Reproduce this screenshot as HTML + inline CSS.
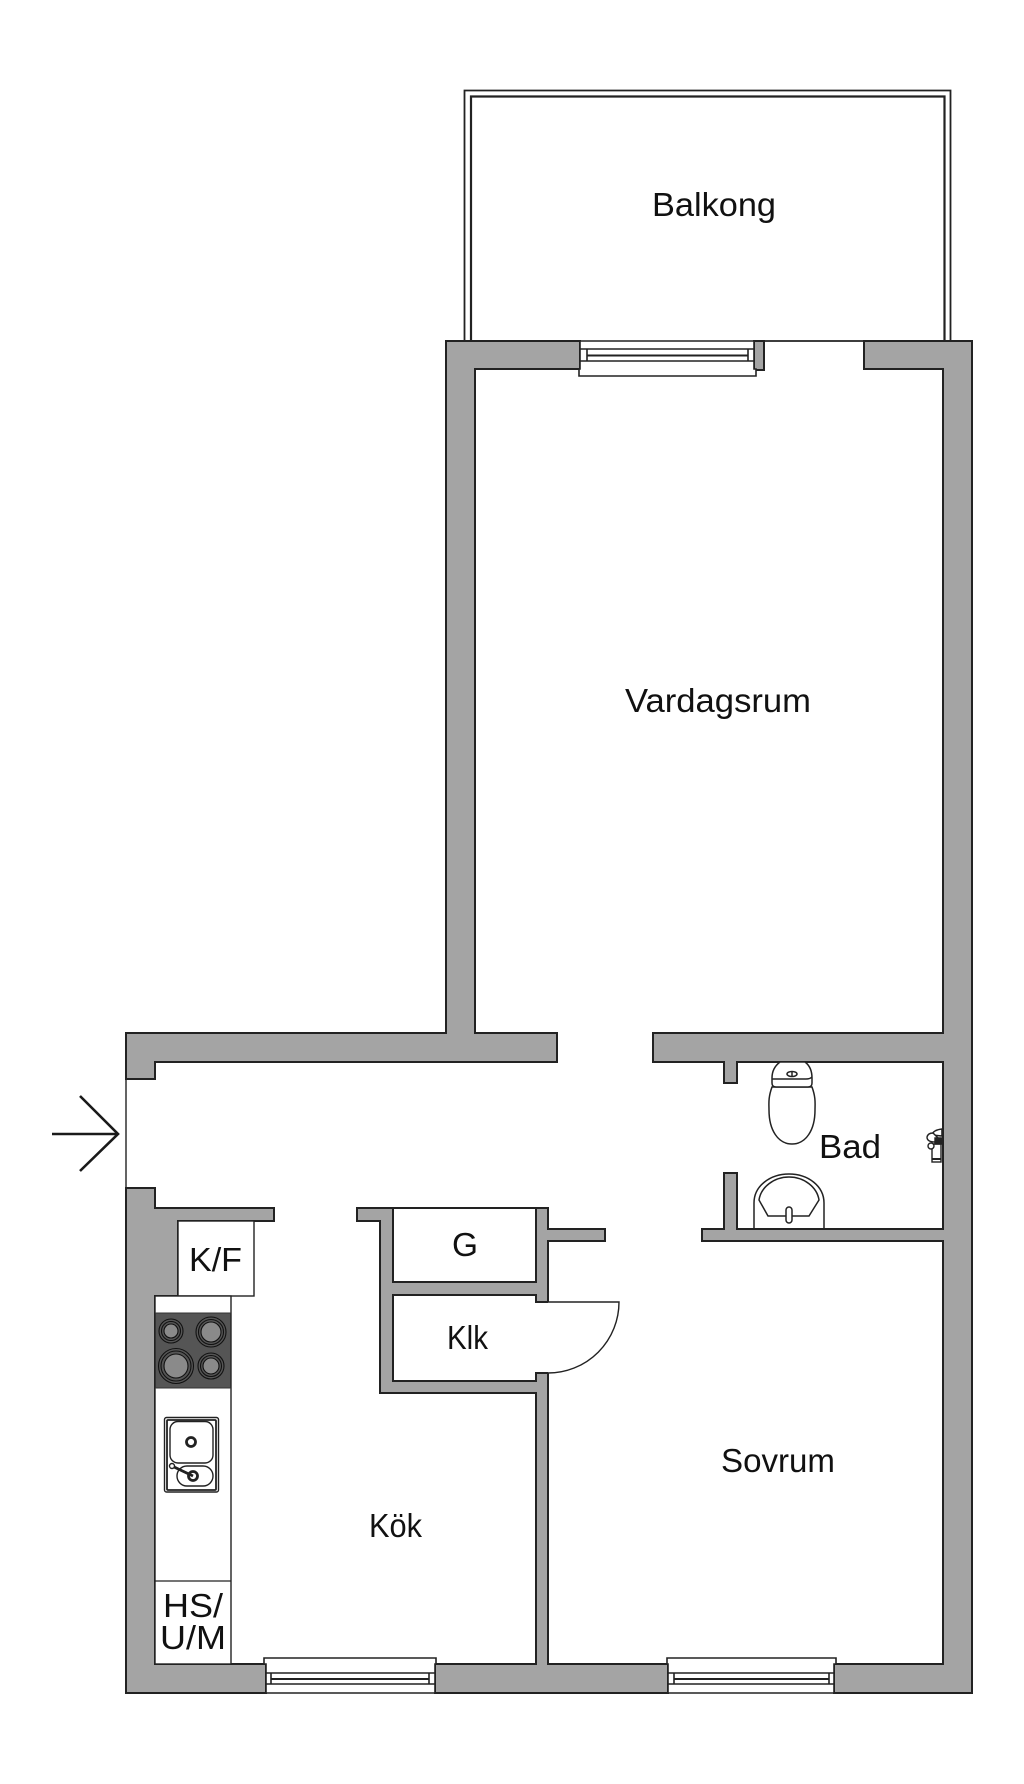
<!DOCTYPE html>
<html lang="sv"><head><meta charset="utf-8"><title>Planritning</title>
<style>html,body{margin:0;padding:0;background:#fff}svg{display:block}
text{font-family:"Liberation Sans",sans-serif;font-size:33px;fill:#111}</style></head>
<body>
<svg xmlns="http://www.w3.org/2000/svg" width="1024" height="1784" viewBox="0 0 1024 1784">
<rect width="1024" height="1784" fill="#fff"/>
<!-- balcony -->
<g fill="none" stroke="#222" stroke-width="1.8">
<path d="M464.500 341V90.500H950.500V341"/>
<path d="M471 341V96.500H944.500V341" stroke-width="2.200"/>
<!-- entrance and balcony door lines -->
<path d="M126 1079V1188" stroke-width="1.400"/>
<path d="M754 341H864"/>
</g>
<!-- walls -->
<g fill="#a4a4a4" stroke="#222" stroke-width="2" stroke-linejoin="miter">
<path d="M126 1033H446V341H580V369H475V1033H557V1062H155V1079H126Z"/>
<rect x="754" y="341" width="10" height="29"/>
<path d="M864 341H972V1693H834V1664H943V1241H702V1229H724V1173H737V1229H943V1062H737V1083H724V1062H653V1033H943V369H864Z"/>
<path d="M126 1188H155V1208H274V1221H178V1296H155V1664H266V1693H126Z"/>
<path d="M435 1693H668V1664H548V1373H536V1381H393V1295H536V1302H548V1241H605V1229H548V1208H357V1221H380V1393H536V1664H435Z"/>
</g>
<rect x="393" y="1208" width="143" height="74" fill="#fff" stroke="#222" stroke-width="2"/>
<!-- closet door -->
<path d="M548 1302H619A71 71 0 0 1 548 1373" fill="#fff" stroke="#222" stroke-width="1.400"/>
<!-- top window -->
<g fill="#fff" stroke="#222" stroke-width="1.600">
<path d="M580 341H754V369H756V376H579V369H580Z"/>
<path d="M580 349H754M580 361H754" fill="none"/>
<path d="M587 349V361M748 349V361" fill="none"/>
<path d="M587 355.500H748" fill="none" stroke-width="2"/>
</g>
<!-- bottom windows -->
<g fill="#fff" stroke="#222" stroke-width="1.600">
<path d="M266 1693V1664H264V1658H436V1664H435V1693Z"/>
<path d="M266 1673H435M266 1684H435M271 1673V1684M429 1673V1684" fill="none"/>
<path d="M271 1679H429" fill="none" stroke-width="2"/>
<path d="M668 1693V1664H667V1658H836V1664H834V1693Z"/>
<path d="M668 1673H834M668 1684H834M674 1673V1684M829 1673V1684" fill="none"/>
<path d="M674 1679H829" fill="none" stroke-width="2"/>
</g>
<!-- kitchen counters -->
<rect x="178" y="1221" width="76" height="75" fill="#fff" stroke="#222" stroke-width="1.400"/>
<rect x="155" y="1296" width="76" height="368" fill="#fff" stroke="#222" stroke-width="1.400"/>
<path d="M155 1581H231" stroke="#222" stroke-width="1.200"/>
<rect x="155.500" y="1313" width="75" height="75" fill="#555" stroke="#333"/>
<g fill="#555" stroke="#111" stroke-width="1.100">
<circle cx="171" cy="1331" r="12"/><circle cx="171" cy="1331" r="9.500"/><circle cx="171" cy="1331" r="7" fill="#8a8a8a"/>
<circle cx="211" cy="1332" r="15"/><circle cx="211" cy="1332" r="12.500"/><circle cx="211" cy="1332" r="10" fill="#8a8a8a"/>
<circle cx="176" cy="1366" r="17.500"/><circle cx="176" cy="1366" r="15"/><circle cx="176" cy="1366" r="12" fill="#8a8a8a"/>
<circle cx="211" cy="1366" r="13"/><circle cx="211" cy="1366" r="10.500"/><circle cx="211" cy="1366" r="8" fill="#8a8a8a"/>
</g>
<!-- sink -->
<g fill="#fff" stroke="#222" stroke-width="1.400">
<rect x="164.500" y="1417.500" width="54" height="74.500" rx="2"/>
<rect x="167" y="1420" width="49" height="70" rx="1" stroke-width="1.800"/>
<rect x="170" y="1421.500" width="43" height="41.500" rx="8"/>
<rect x="177" y="1466" width="36" height="20" rx="10"/>
<circle cx="191" cy="1442" r="4.500" stroke-width="2.800"/>
<circle cx="193" cy="1476" r="4.500" stroke-width="2.800"/>
<path d="M172 1466L193 1476" stroke-width="2.800"/>
<circle cx="172" cy="1466" r="2.500"/>
</g>
<!-- toilet -->
<g fill="#fff" stroke="#222" stroke-width="1.500">
<path d="M772 1087C768 1098 769 1104 769 1110C769 1130 778 1144 792 1144C806 1144 815 1130 815 1110C815 1104 816 1098 812 1087Z"/>
<path d="M772 1078C772 1070 776 1065 780 1062H805C809 1065 812 1070 812 1078V1083Q812 1087 808 1087H776Q772 1087 772 1083Z"/>
<path d="M772 1079Q776 1079 778 1079H806Q810 1079 812 1077" fill="none"/>
<ellipse cx="792" cy="1074" rx="5" ry="2.500" stroke-width="1.500"/>
<path d="M792 1071.500V1076.500"/>
</g>
<!-- wash basin -->
<g fill="#fff" stroke="#222" stroke-width="1.500">
<path d="M754 1228V1203C754 1186 770 1174 789 1174C808 1174 824 1186 824 1203V1228"/>
<path d="M759 1200C761 1187 774 1177 789 1177C804 1177 817 1187 819 1200L809 1216H768Z"/>
<rect x="786" y="1207" width="6" height="16" rx="3"/>
</g>
<!-- shower mixer -->
<g fill="#fff" stroke="#222" stroke-width="1.400">
<rect x="932" y="1144" width="9" height="18"/>
<path d="M932 1159H941" stroke-width="2"/>
<path d="M932 1135Q933 1130 942 1129V1136Z" stroke-width="1.600"/>
<path d="M933 1133Q928 1133 927 1137Q927 1142 935 1142L938 1138Z"/>
<circle cx="931" cy="1146" r="3"/>
<path d="M935 1138H942V1144H935Z" fill="#222"/>
</g>
<!-- entry arrow -->
<path d="M52 1134H118M80 1096L118 1134L80 1171" fill="none" stroke="#1a1a1a" stroke-width="2.600"/>
<!-- labels -->
<text x="652" y="216" textLength="124" lengthAdjust="spacingAndGlyphs">Balkong</text>
<text x="625" y="712" textLength="186" lengthAdjust="spacingAndGlyphs">Vardagsrum</text>
<text x="721" y="1472" textLength="114" lengthAdjust="spacingAndGlyphs">Sovrum</text>
<text x="369" y="1537" textLength="53" lengthAdjust="spacingAndGlyphs">Kök</text>
<text x="819" y="1158" textLength="62" lengthAdjust="spacingAndGlyphs">Bad</text>
<text x="452" y="1256" textLength="26" lengthAdjust="spacingAndGlyphs">G</text>
<text x="447" y="1349" textLength="41" lengthAdjust="spacingAndGlyphs">Klk</text>
<text x="189" y="1271" textLength="53" lengthAdjust="spacingAndGlyphs">K/F</text>
<text x="163" y="1617" textLength="60" lengthAdjust="spacingAndGlyphs">HS/</text>
<text x="160" y="1649" textLength="66" lengthAdjust="spacingAndGlyphs">U/M</text>
</svg>
</body></html>
